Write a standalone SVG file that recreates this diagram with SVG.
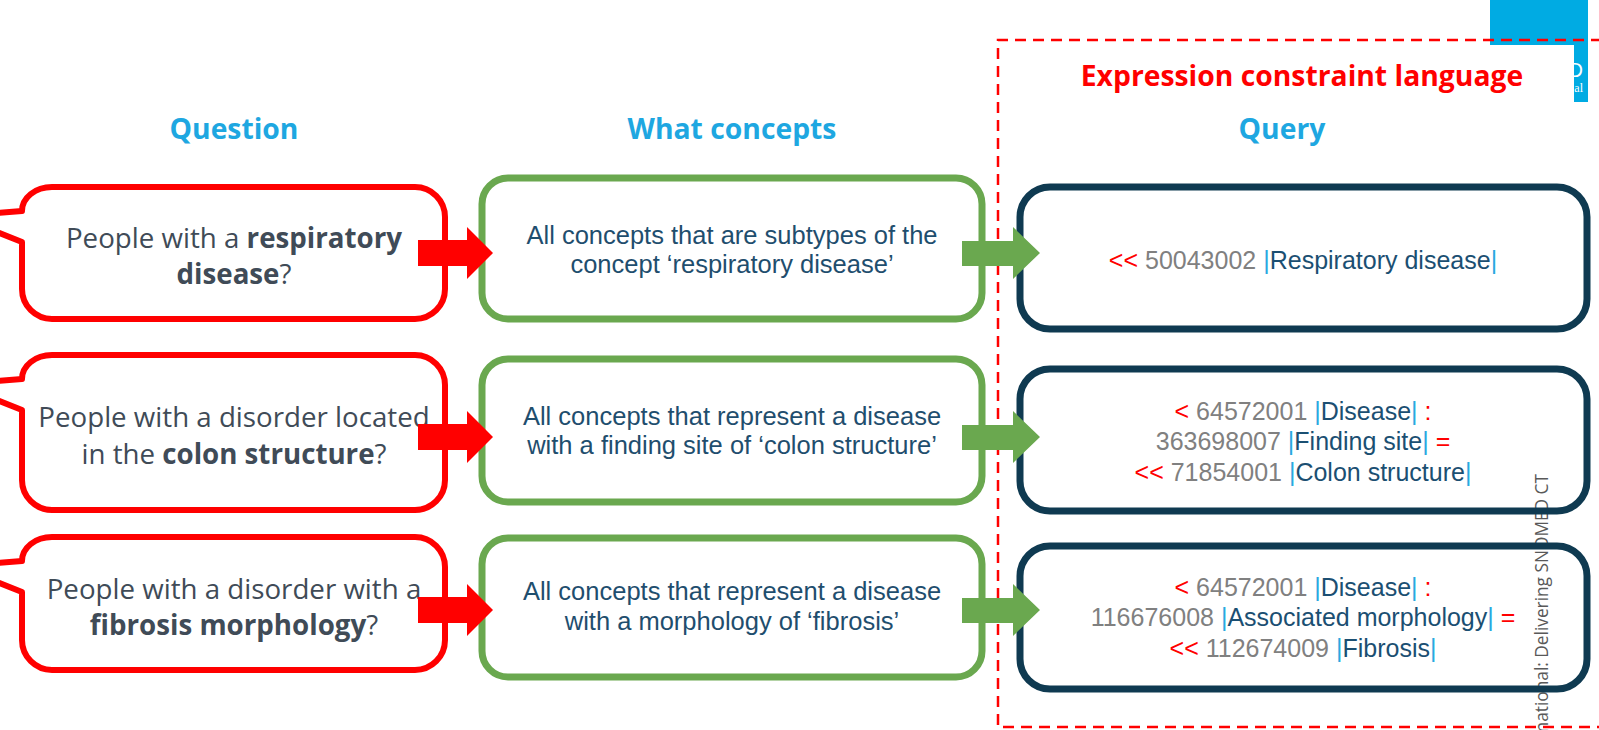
<svg xmlns="http://www.w3.org/2000/svg" width="1599" height="730" viewBox="0 0 1599 730">
<style>
.hdr{font-family:"Open Sans","DejaVu Sans",sans-serif;font-weight:bold;font-size:28.3px;fill:#1EA7E1;text-anchor:middle}
.ecl{font-family:"Open Sans","DejaVu Sans",sans-serif;font-weight:bold;font-size:28.3px;fill:#FF0000;text-anchor:middle}
.qbox{fill:#FFFFFF;stroke:#FF0000;stroke-width:6;stroke-linejoin:round}
.cbox{fill:#FFFFFF;stroke:#6AA84F;stroke-width:7}
.ebox{fill:none;stroke:#0F3A51;stroke-width:7}
.qt{font-family:"Open Sans","DejaVu Sans",sans-serif;font-size:27.7px;fill:#404B57;text-anchor:middle}
.b{font-weight:bold}
.ct{font-family:"Liberation Sans",Arial,sans-serif;font-size:25.5px;fill:#1F4E6E;text-anchor:middle}
.et{font-family:"Liberation Sans",Arial,sans-serif;font-size:25px;text-anchor:middle}
.op{fill:#FF0000}
.num{fill:#808080}
.bar{fill:#29A9E0}
.term{fill:#1B4F72}
.ra{fill:#FF0000}
.ga{fill:#6AA84F}
</style>
<rect width="1599" height="730" fill="#FFFFFF"/>
<g id="background">
<path d="M1490 0 H1588 V102 H1574 V45 H1490 Z" fill="#00ABE3"/>
<text x="1583" y="77" font-family="Liberation Sans,Arial,sans-serif" font-size="20" fill="#FFFFFF" text-anchor="end">D</text>
<text x="1583" y="92" font-family="Liberation Serif,serif" font-size="12" fill="#FFFFFF" text-anchor="end">al</text>
<text transform="translate(1548,474) rotate(-90)" font-family="Open Sans,DejaVu Sans,sans-serif" font-size="17.3" fill="#595959" text-anchor="end">national: Delivering SNOMED CT</text>
</g>
<g id="ecl-frame">
<path d="M1620 40 H998 V727 H1620" fill="none" stroke="#FF0000" stroke-width="2.5" stroke-dasharray="11 7"/>
<text class="ecl" x="1302" y="86">Expression constraint language</text>
</g>
<g id="headers">
<text class="hdr" x="234" y="139">Question</text>
<text class="hdr" x="732" y="139">What concepts</text>
<text class="hdr" x="1282" y="139">Query</text>
</g>
<g id="question1">
<path class="qbox" d="M22 211 A30 24 0 0 1 52 187 H415 A30 30 0 0 1 445 217 V289 A30 30 0 0 1 415 319 H52 A30 30 0 0 1 22 289 V242 L-43 216 Z"/>
<text class="qt" x="234" y="248">People with a <tspan class="b">respiratory</tspan></text>
<text class="qt" x="234" y="284"><tspan class="b">disease</tspan>?</text>
</g>
<g id="question2">
<path class="qbox" d="M22 379 A30 24 0 0 1 52 355 H415 A30 30 0 0 1 445 385 V480 A30 30 0 0 1 415 510 H52 A30 30 0 0 1 22 480 V410 L-43 384 Z"/>
<text class="qt" x="234" y="427">People with a disorder located</text>
<text class="qt" x="234" y="464">in the <tspan class="b">colon structure</tspan>?</text>
</g>
<g id="question3">
<path class="qbox" d="M22 561 A30 24 0 0 1 52 537 H415 A30 30 0 0 1 445 567 V640 A30 30 0 0 1 415 670 H52 A30 30 0 0 1 22 640 V592 L-43 566 Z"/>
<text class="qt" x="234" y="599">People with a disorder with a</text>
<text class="qt" x="234" y="635"><tspan class="b">fibrosis morphology</tspan>?</text>
</g>
<g id="concept1">
<rect class="cbox" x="482" y="178" width="500" height="141" rx="26"/>
<text class="ct" x="732" y="244">All concepts that are subtypes of the</text>
<text class="ct" x="732" y="273">concept ‘respiratory disease’</text>
</g>
<g id="concept2">
<rect class="cbox" x="482" y="359" width="500" height="143" rx="26"/>
<text class="ct" x="732" y="425">All concepts that represent a disease</text>
<text class="ct" x="732" y="454">with a finding site of ‘colon structure’</text>
</g>
<g id="concept3">
<rect class="cbox" x="482" y="538" width="500" height="139" rx="26"/>
<text class="ct" x="732" y="600">All concepts that represent a disease</text>
<text class="ct" x="732" y="630">with a morphology of ‘fibrosis’</text>
</g>
<g id="query1">
<rect class="ebox" x="1020" y="187" width="567" height="142" rx="30"/>
<text class="et" x="1303" y="269"><tspan class="op">&lt;&lt;</tspan><tspan class="num"> 50043002 </tspan><tspan class="bar">|</tspan><tspan class="term">Respiratory disease</tspan><tspan class="bar">|</tspan></text>
</g>
<g id="query2">
<rect class="ebox" x="1020" y="369" width="567" height="142" rx="30"/>
<text class="et" x="1303" y="420"><tspan class="op">&lt;</tspan><tspan class="num"> 64572001 </tspan><tspan class="bar">|</tspan><tspan class="term">Disease</tspan><tspan class="bar">|</tspan><tspan class="op"> :</tspan></text>
<text class="et" x="1303" y="450"><tspan class="num">363698007 </tspan><tspan class="bar">|</tspan><tspan class="term">Finding site</tspan><tspan class="bar">|</tspan><tspan class="op"> =</tspan></text>
<text class="et" x="1303" y="481"><tspan class="op">&lt;&lt;</tspan><tspan class="num"> 71854001 </tspan><tspan class="bar">|</tspan><tspan class="term">Colon structure</tspan><tspan class="bar">|</tspan></text>
</g>
<g id="query3">
<rect class="ebox" x="1020" y="546" width="567" height="143" rx="30"/>
<text class="et" x="1303" y="596"><tspan class="op">&lt;</tspan><tspan class="num"> 64572001 </tspan><tspan class="bar">|</tspan><tspan class="term">Disease</tspan><tspan class="bar">|</tspan><tspan class="op"> :</tspan></text>
<text class="et" x="1303" y="626"><tspan class="num">116676008 </tspan><tspan class="bar">|</tspan><tspan class="term">Associated morphology</tspan><tspan class="bar">|</tspan><tspan class="op"> =</tspan></text>
<text class="et" x="1303" y="657"><tspan class="op">&lt;&lt;</tspan><tspan class="num"> 112674009 </tspan><tspan class="bar">|</tspan><tspan class="term">Fibrosis</tspan><tspan class="bar">|</tspan></text>
</g>
<g id="connectors">
<polygon class="ra" points="418,240 467,240 467,227 493,253 467,279 467,266 418,266"/>
<polygon class="ra" points="418,424 467,424 467,411 493,437 467,463 467,450 418,450"/>
<polygon class="ra" points="418,597 467,597 467,584 493,610 467,636 467,623 418,623"/>
<polygon class="ga" points="962,241 1013,241 1013,227 1040,253 1013,279 1013,266 962,266"/>
<polygon class="ga" points="962,425 1013,425 1013,411 1040,437 1013,463 1013,450 962,450"/>
<polygon class="ga" points="962,598 1013,598 1013,584 1040,610 1013,636 1013,623 962,623"/>
</g>
</svg>
